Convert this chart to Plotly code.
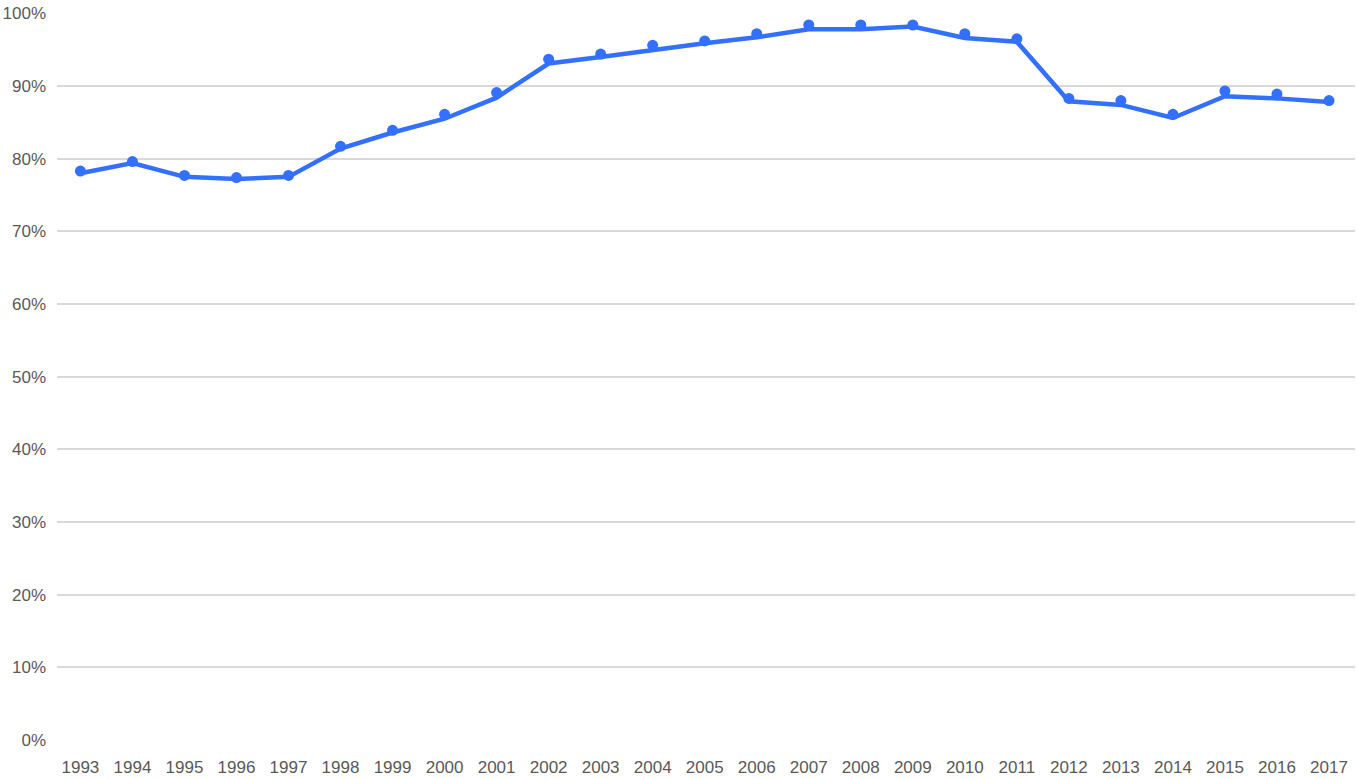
import plotly.graph_objects as go

years = [str(y) for y in range(1993, 2018)]
dot_values = [78.3, 79.6, 77.7, 77.4, 77.7, 81.7, 83.9, 86.1, 89.1, 93.7, 94.4, 95.6, 96.2,
              97.2, 98.4, 98.4, 98.4, 97.2, 96.5, 88.3, 88.0, 86.1, 89.3, 88.9, 88.0]
line_values = [78.0, 79.4, 77.5, 77.2, 77.5, 81.4, 83.6, 85.5, 88.4, 93.1, 94.0, 95.0, 95.9,
               96.7, 97.8, 97.8, 98.2, 96.6, 96.1, 87.9, 87.4, 85.6, 88.6, 88.3, 87.8]
y_ticks = [0, 10, 20, 30, 40, 50, 60, 70, 80, 90, 100]
y_tick_labels = [f"{v}%" for v in y_ticks]

color = "#3370FF"
font_family = "Liberation Sans, Arial, sans-serif"
fig = go.Figure()
fig.add_trace(go.Scatter(x=years, y=[v / 100 for v in line_values], mode="lines",
                         line=dict(color=color, width=4.5), showlegend=False, hoverinfo="skip"))
fig.add_trace(go.Scatter(x=years, y=[v / 100 for v in dot_values], mode="markers",
                         marker=dict(color=color, size=11), showlegend=False))

fig.update_layout(
    width=1358, height=779,
    margin=dict(l=57, r=3, t=13, b=39),
    paper_bgcolor="white", plot_bgcolor="white",
    font=dict(family=font_family, size=17, color="#595959"),
    xaxis=dict(type="category", range=[-0.45, 24.5], showgrid=False, zeroline=False,
               showline=False, ticks="", automargin=False, ticklabelstandoff=15,
               tickfont=dict(family=font_family, size=17, color="#595959")),
    yaxis=dict(range=[0, 1.0005], tickvals=[v / 100 for v in y_ticks], ticktext=y_tick_labels,
               showgrid=True, gridcolor="#D9D9D9", gridwidth=2, zeroline=False,
               showline=False, ticks="", ticklabelstandoff=10, automargin=False,
               ticklabeloverflow="allow",
               tickfont=dict(family=font_family, size=17, color="#595959")),
)
fig.write_html("out.html", config={"displayModeBar": False},
               post_script="document.body.style.margin='0';document.body.style.overflow='hidden';")
